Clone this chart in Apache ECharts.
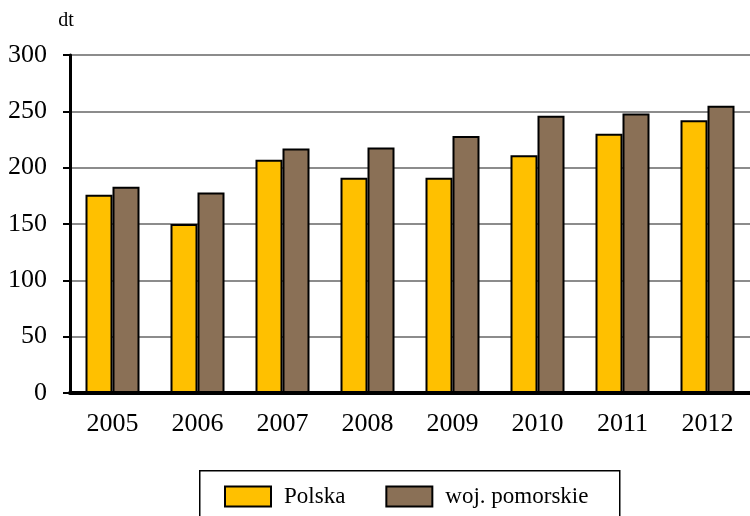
<!DOCTYPE html>
<html>
<head>
<meta charset="utf-8">
<script src="https://cdn.jsdelivr.net/npm/echarts@6/dist/echarts.min.js"></script>
<style>
  html, body { margin: 0; padding: 0; background: #fff; }
  #chart { width: 750px; height: 516px; }
</style>
</head>
<body>
<div id="chart"></div>
<script>
// Years on the category axis
const years = ['2005', '2006', '2007', '2008', '2009', '2010', '2011', '2012'];
// Values in dt
const polska = [176, 150, 207, 191, 191, 211, 230, 242];
const pomorskie = [183, 178, 217, 218, 228, 246, 248, 255];
const seriesNames = ['Polska', 'woj. pomorskie'];
const yTicks = { min: 0, max: 300, step: 50 };

const serif = '"Liberation Serif", "Times New Roman", serif';

const chart = echarts.init(document.getElementById('chart'), null, { renderer: 'canvas' });

chart.setOption({
  animation: false,
  backgroundColor: '#ffffff',
  textStyle: { fontFamily: serif },
  grid: { left: 70, top: 55, width: 688, height: 338, containLabel: false },
  graphic: [{
    type: 'rect',
    left: 199, top: 470,
    shape: { width: 420, height: 60 },
    style: { fill: '#ffffff', stroke: '#000000', lineWidth: 1.5 },
    z: 0
  }],
  legend: {
    data: seriesNames,
    left: 224, top: 485,
    padding: 0,
    itemWidth: 46, itemHeight: 20,
    itemGap: 40,
    icon: 'rect',
    textStyle: { fontFamily: serif, fontSize: 23, color: '#000', padding: [0, 0, 0, 8] },
    z: 5
  },
  xAxis: {
    type: 'category',
    data: years,
    axisLine: { lineStyle: { color: '#000', width: 4 } },
    axisTick: { show: false },
    axisLabel: { color: '#000', fontSize: 26, fontFamily: serif, margin: 18 },
    splitLine: { show: false }
  },
  yAxis: {
    type: 'value',
    min: yTicks.min, max: yTicks.max, interval: yTicks.step,
    name: 'dt',
    nameLocation: 'end',
    nameGap: 24,
    nameTextStyle: { color: '#000', fontSize: 20, fontFamily: serif, align: 'center', padding: [0, 8, 0, 0] },
    axisLine: { show: true, lineStyle: { color: '#000', width: 3 } },
    axisTick: { show: true, inside: false, length: 7, lineStyle: { color: '#000', width: 2 } },
    axisLabel: { color: '#000', fontSize: 26, fontFamily: serif, margin: 23 },
    splitLine: { show: true, lineStyle: { color: '#8c8c8c', width: 2 } }
  },
  series: [
    {
      name: seriesNames[0],
      type: 'bar',
      data: polska,
      barWidth: 27,
      barGap: '0%',
      itemStyle: { color: '#FFC000', borderColor: '#000', borderWidth: 2 }
    },
    {
      name: seriesNames[1],
      type: 'bar',
      data: pomorskie,
      barWidth: 27,
      barGap: '0%',
      itemStyle: { color: '#8A7056', borderColor: '#000', borderWidth: 2 }
    }
  ]
});
</script>
</body>
</html>
